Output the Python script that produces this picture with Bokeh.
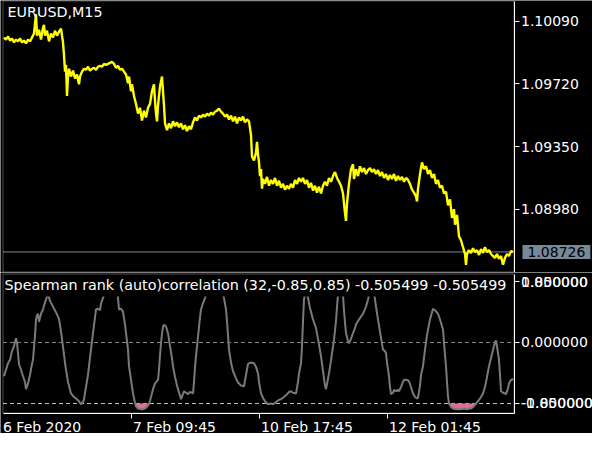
import numpy as np
from bokeh.plotting import figure
from bokeh.layouts import column
from bokeh.models import Range1d, FixedTicker, Label, BoxAnnotation
from bokeh.embed import file_html
from bokeh.resources import INLINE

# ---------------- data ----------------
symbol_title = "EURUSD,M15"
indicator_title = "Spearman rank (auto)correlation (32,-0.85,0.85) -0.505499 -0.505499"

price_bars = [1, 3, 5, 7, 9, 11, 13, 15, 17, 19, 21, 23, 25, 27, 29, 31, 33, 34, 36, 38,
              40, 41, 42, 44, 46, 48, 50, 52, 54, 56, 58, 59, 60, 61, 62, 63, 64, 65, 66, 68,
              70, 72, 74, 76, 77, 79, 81, 83, 85, 87, 89, 91, 93, 95, 97, 99, 101, 103, 105, 107,
              109, 111, 113, 115, 117, 119, 121, 123, 125, 126, 128, 129, 131, 133, 135, 137, 139, 141, 143, 145,
              147, 149, 151, 152, 153, 154, 155, 156, 157, 158, 159, 160, 161, 162, 164, 166, 168, 170, 172, 174,
              176, 178, 180, 182, 184, 186, 188, 190, 192, 194, 196, 198, 200, 202, 204, 206, 208, 210, 212, 214,
              216, 218, 220, 222, 224, 226, 228, 230, 232, 234, 236, 238, 240, 242, 244, 246, 248, 249, 251, 253,
              254, 255, 256, 257, 258, 259, 260, 262, 264, 266, 268, 270, 272, 274, 276, 278, 280, 282, 284, 286,
              288, 290, 292, 294, 296, 298, 300, 302, 304, 306, 308, 310, 312, 314, 316, 318, 320, 322, 324, 326,
              328, 330, 332, 334, 336, 338, 340, 342, 343, 344, 346, 348, 350, 351, 353, 355, 357, 359, 361, 363,
              365, 367, 369, 371, 373, 375, 377, 379, 381, 383, 385, 387, 389, 391, 393, 395, 397, 399, 401, 403,
              405, 407, 409, 411, 413, 414, 415, 417, 419, 421, 423, 425, 427, 429, 431, 433, 435, 437, 439, 441,
              443, 445, 447, 449, 451, 452, 454, 456, 458, 460, 462, 463, 464, 466, 468, 470, 472, 474, 476, 478,
              480, 482, 484, 486, 488, 490, 492, 494, 496, 498, 500, 502, 504, 506, 508, 510]
price_close = [1.09995, 1.09983, 1.10001, 1.09977, 1.09989, 1.09966, 1.09983, 1.09972, 1.09989, 1.09966,
               1.09977, 1.09960, 1.09983, 1.09972, 1.09995, 1.10018, 1.10133, 1.10006, 1.10041, 1.09983,
               1.10053, 1.10070, 1.10006, 1.10035, 1.09972, 1.10018, 1.09995, 1.10035, 1.10006, 1.10029,
               1.10047, 1.10006, 1.09966, 1.09891, 1.09793, 1.09833, 1.09649, 1.09764, 1.09810, 1.09764,
               1.09799, 1.09752, 1.09776, 1.09718, 1.09764, 1.09793, 1.09810, 1.09804, 1.09822, 1.09799,
               1.09810, 1.09816, 1.09804, 1.09822, 1.09827, 1.09822, 1.09839, 1.09833, 1.09839, 1.09845,
               1.09851, 1.09839, 1.09816, 1.09827, 1.09804, 1.09810, 1.09793, 1.09776, 1.09724, 1.09764,
               1.09677, 1.09718, 1.09649, 1.09602, 1.09545, 1.09579, 1.09504, 1.09562, 1.09522, 1.09579,
               1.09602, 1.09677, 1.09718, 1.09620, 1.09545, 1.09499, 1.09591, 1.09649, 1.09706, 1.09735,
               1.09764, 1.09677, 1.09591, 1.09487, 1.09447, 1.09487, 1.09458, 1.09499, 1.09470, 1.09493,
               1.09464, 1.09487, 1.09452, 1.09476, 1.09441, 1.09470, 1.09452, 1.09493, 1.09522, 1.09504,
               1.09533, 1.09522, 1.09539, 1.09527, 1.09545, 1.09533, 1.09551, 1.09539, 1.09556, 1.09562,
               1.09574, 1.09556, 1.09545, 1.09527, 1.09539, 1.09510, 1.09533, 1.09499, 1.09527, 1.09487,
               1.09522, 1.09504, 1.09527, 1.09493, 1.09510, 1.09499, 1.09418, 1.09291, 1.09268, 1.09314,
               1.09377, 1.09302, 1.09256, 1.09175, 1.09216, 1.09100, 1.09158, 1.09129, 1.09170, 1.09118,
               1.09152, 1.09129, 1.09164, 1.09118, 1.09147, 1.09106, 1.09129, 1.09095, 1.09118, 1.09100,
               1.09129, 1.09106, 1.09152, 1.09129, 1.09164, 1.09141, 1.09164, 1.09129, 1.09152, 1.09106,
               1.09135, 1.09089, 1.09118, 1.09077, 1.09112, 1.09072, 1.09118, 1.09141, 1.09118, 1.09164,
               1.09141, 1.09175, 1.09199, 1.09164, 1.09141, 1.09118, 1.09072, 1.08956, 1.08910, 1.09014,
               1.09129, 1.09216, 1.09245, 1.09158, 1.09216, 1.09175, 1.09233, 1.09199, 1.09222, 1.09187,
               1.09210, 1.09222, 1.09199, 1.09216, 1.09187, 1.09210, 1.09175, 1.09199, 1.09164, 1.09187,
               1.09152, 1.09181, 1.09158, 1.09187, 1.09147, 1.09175, 1.09152, 1.09170, 1.09141, 1.09164,
               1.09152, 1.09129, 1.09095, 1.09077, 1.09054, 1.09025, 1.09100, 1.09187, 1.09256, 1.09216,
               1.09233, 1.09187, 1.09210, 1.09164, 1.09187, 1.09129, 1.09152, 1.09106, 1.09118, 1.09072,
               1.09083, 1.09002, 1.09037, 1.08927, 1.08979, 1.08887, 1.08945, 1.08818, 1.08795, 1.08754,
               1.08714, 1.08650, 1.08714, 1.08737, 1.08720, 1.08748, 1.08725, 1.08737, 1.08708, 1.08743,
               1.08720, 1.08754, 1.08725, 1.08737, 1.08714, 1.08702, 1.08691, 1.08714, 1.08685, 1.08702,
               1.08650, 1.08691, 1.08714, 1.08702, 1.08731, 1.08726]
current_price = 1.08726
current_price_label = "1.08726"
price_ticks = [1.10090, 1.09720, 1.09350, 1.08980]
price_tick_labels = ["1.10090", "1.09720", "1.09350", "1.08980"]

corr_bars = [1, 3, 5, 7, 9, 11, 13, 14, 15, 16, 18, 20, 22, 23, 25, 27, 29, 30, 32, 33,
             34, 35, 36, 38, 40, 42, 44, 45, 47, 50, 53, 56, 58, 60, 62, 63, 65, 68, 71, 73,
             76, 78, 80, 81, 83, 85, 86, 88, 90, 92, 93, 95, 97, 98, 100, 102, 104, 108, 112, 114,
             115, 116, 118, 120, 122, 123, 125, 126, 128, 130, 132, 133, 135, 138, 140, 143, 146, 148, 150, 152,
             155, 156, 157, 158, 159, 160, 161, 163, 165, 167, 169, 170, 172, 174, 175, 177, 178, 180, 181, 183,
             185, 187, 189, 190, 191, 192, 193, 195, 197, 198, 200, 202, 204, 208, 212, 216, 219, 221, 223, 224,
             225, 226, 228, 230, 231, 233, 235, 236, 238, 241, 243, 245, 246, 248, 251, 253, 255, 256, 258, 260,
             262, 265, 268, 270, 273, 276, 278, 281, 284, 286, 288, 290, 293, 295, 296, 298, 299, 300, 301, 303,
             305, 307, 310, 312, 313, 315, 318, 320, 322, 323, 324, 326, 328, 331, 333, 334, 335, 338, 340, 341,
             342, 343, 345, 346, 348, 350, 352, 353, 355, 358, 360, 363, 365, 366, 368, 371, 373, 375, 377, 379,
             380, 382, 383, 384, 386, 387, 388, 390, 391, 393, 395, 396, 398, 400, 401, 403, 405, 406, 408, 410,
             412, 414, 415, 417, 418, 420, 422, 424, 425, 427, 429, 430, 432, 435, 437, 440, 441, 442, 443, 444,
             445, 446, 448, 450, 453, 456, 458, 461, 464, 466, 468, 470, 472, 473, 476, 478, 480, 482, 484, 486,
             488, 490, 492, 493, 494, 495, 496, 497, 498, 500, 502, 503, 505, 506, 508, 509, 510]
corr_values = [-0.47, -0.38, -0.29, -0.24, -0.12, -0.05, 0.06, 0.00, -0.15, -0.30, -0.38, -0.47, -0.55, -0.65, -0.57, -0.45, -0.30, -0.24, 0.10, 0.32,
               0.38, 0.40, 0.29, 0.40, 0.46, 0.56, 0.64, 0.68, 0.58, 0.50, 0.42, 0.33, 0.15, -0.06, -0.28, -0.38, -0.55, -0.71, -0.76, -0.78,
               -0.82, -0.86, -0.83, -0.79, -0.62, -0.45, -0.33, -0.10, 0.13, 0.35, 0.46, 0.47, 0.45, 0.54, 0.62, 0.70, 0.80, 0.85, 0.82, 0.72,
               0.62, 0.46, 0.47, 0.43, 0.25, 0.13, -0.10, -0.33, -0.52, -0.71, -0.84, -0.89, -0.92, -0.93, -0.93, -0.91, -0.86, -0.76, -0.65, -0.57,
               -0.52, -0.38, -0.18, -0.01, 0.12, 0.22, 0.25, 0.22, 0.13, -0.05, -0.22, -0.33, -0.48, -0.60, -0.65, -0.74, -0.79, -0.72, -0.68, -0.70,
               -0.72, -0.69, -0.70, -0.71, -0.55, -0.35, -0.19, 0.08, 0.35, 0.46, 0.55, 0.62, 0.70, 0.85, 0.90, 0.85, 0.70, 0.62, 0.46, 0.30,
               0.10, -0.10, -0.28, -0.40, -0.43, -0.50, -0.56, -0.57, -0.60, -0.61, -0.45, -0.30, -0.29, -0.28, -0.29, -0.34, -0.43, -0.55, -0.71, -0.77,
               -0.82, -0.86, -0.85, -0.86, -0.83, -0.80, -0.79, -0.76, -0.72, -0.69, -0.68, -0.70, -0.71, -0.55, -0.43, -0.29, -0.05, 0.30, 0.60, 0.75,
               0.62, 0.48, 0.32, 0.24, 0.20, 0.05, -0.19, -0.40, -0.60, -0.65, -0.58, -0.43, -0.25, 0.04, 0.30, 0.50, 0.66, 0.80, 0.66, 0.45,
               0.28, 0.13, 0.02, -0.01, 0.05, 0.13, 0.20, 0.25, 0.30, 0.36, 0.40, 0.50, 0.60, 0.66, 0.80, 0.70, 0.50, 0.32, 0.15, -0.02,
               -0.10, -0.12, -0.15, -0.28, -0.47, -0.62, -0.72, -0.70, -0.66, -0.68, -0.66, -0.68, -0.62, -0.55, -0.52, -0.52, -0.53, -0.54, -0.62, -0.71,
               -0.76, -0.78, -0.77, -0.60, -0.45, -0.33, -0.10, 0.10, 0.18, 0.32, 0.42, 0.47, 0.45, 0.40, 0.32, 0.18, 0.00, -0.18, -0.33, -0.55,
               -0.75, -0.85, -0.90, -0.92, -0.93, -0.93, -0.93, -0.92, -0.93, -0.92, -0.92, -0.90, -0.87, -0.85, -0.80, -0.76, -0.71, -0.62, -0.48, -0.33,
               -0.22, -0.10, 0.00, 0.03, -0.05, -0.15, -0.24, -0.45, -0.68, -0.70, -0.71, -0.72, -0.64, -0.57, -0.52, -0.52, -0.505499]
corr_low_level = -0.85
corr_levels = [0.85, 0.0, -0.85]
corr_tick_labels = ["0.850000", "0.000000", "-0.850000"]
corr_bound_values = [0.85, -0.85]
corr_bound_labels = ["1.000000", "-1.000000"]

time_ticks = [0, 128, 256, 384]
time_labels = ["6 Feb 2020", "7 Feb 09:45", "10 Feb 17:45", "12 Feb 01:45"]

# ---------------- layout / styles ----------------
FONT = "DejaVu Sans"
FS_AX = "14px"
FS_TITLE = "14.3px"
W = 592                 # canvas width (frame covers all of it)
TOP_H = 272             # price pane canvas height
LOW_H = 161             # indicator pane + time labels canvas height
PANE_L, PANE_R = 0, 511  # pane borders, in bar units (1 bar = 1 px)
x_range = Range1d(-2.5, W - 2.5)

price_px = 0.00005918   # price per pixel
price_range = Range1d(1.1021406 - TOP_H * price_px, 1.1021406)
corr_px = 1 / 71.76      # correlation units per pixel
corr_range = Range1d(0.97547 - LOW_H * corr_px, 0.97547)

price_pane_top = price_range.end - 0.5 * price_px
price_pane_bot = price_range.end - 271.5 * price_px
corr_pane_top = corr_range.end - 1.5 * corr_px
corr_pane_bot = corr_range.end - 140.5 * corr_px
corr_mask_bottom = 0.64
time_label_y = corr_range.end - 154 * corr_px


def style_axis(ax, ticks, labels):
    ax.ticker = FixedTicker(ticks=ticks)
    ax.major_label_overrides = dict(zip(ticks, labels))
    ax.minor_tick_line_color = None
    ax.major_tick_line_color = "white"
    ax.major_tick_out = 5
    ax.major_tick_in = 0
    ax.axis_line_color = "white"
    ax.major_label_text_color = "white"
    ax.major_label_text_font = FONT
    ax.major_label_text_font_size = FS_AX
    ax.major_label_standoff = 2


def pane_box(top, bottom):
    return BoxAnnotation(left=PANE_L, right=PANE_R, top=top, bottom=bottom,
                         fill_alpha=0, line_color="white", line_width=1)


# ---- top: price pane ----
p1 = figure(width=W, height=TOP_H, x_range=x_range, y_range=price_range,
            output_backend="svg", toolbar_location=None, x_axis_location=None,
            y_axis_location="right", min_border=0, background_fill_color="black",
            border_fill_color="black", outline_line_color=None)
p1.grid.visible = False
ya1 = p1.yaxis[0]
style_axis(ya1, price_ticks, price_tick_labels)
ya1.fixed_location = PANE_R
ya1.bounds = (price_pane_bot, price_pane_top)

p1.segment(x0=[PANE_L], x1=[PANE_R], y0=[current_price], y1=[current_price],
           line_color="#778899", line_width=1)
p1.line(price_bars, price_close, line_color="#FFFF00", line_width=2.4)
p1.add_layout(pane_box(price_pane_top, price_pane_bot))

p1.add_layout(Label(x=7, y=TOP_H - 3, x_units="screen", y_units="screen", text=symbol_title,
                    text_color="white", text_font=FONT, text_font_size=FS_TITLE,
                    text_align="left", text_baseline="top"))
p1.add_layout(Label(x=PANE_R + 8.5, y=current_price, text=current_price_label,
                    text_color="black", text_font=FONT, text_font_size=FS_AX,
                    text_align="left", text_baseline="middle",
                    background_fill_color="#778899",
                    padding=dict(left=5, right=5, top=2, bottom=2)))

# ---- bottom: indicator pane ----
p2 = figure(width=W, height=LOW_H, x_range=x_range, y_range=corr_range,
            output_backend="svg", toolbar_location=None, x_axis_location="below",
            y_axis_location="right", min_border=0, background_fill_color="black",
            border_fill_color="black", outline_line_color=None)
p2.grid.visible = False
ya2 = p2.yaxis[0]
style_axis(ya2, corr_levels, corr_tick_labels)
ya2.fixed_location = PANE_R
ya2.bounds = (corr_pane_bot, corr_pane_top)

xa = p2.xaxis[0]
xa.ticker = FixedTicker(ticks=time_ticks[1:])
xa.fixed_location = corr_pane_bot
xa.bounds = (PANE_L, PANE_R)
xa.minor_tick_line_color = None
xa.major_tick_line_color = "white"
xa.major_tick_out = 5
xa.major_tick_in = 0
xa.axis_line_color = "white"
xa.major_label_text_alpha = 0
xa.major_label_text_font_size = "1px"

for lvl in corr_levels:
    p2.segment(x0=[PANE_L], x1=[PANE_R], y0=[lvl], y1=[lvl],
               line_color="#778899" if lvl == 0 else "#C0C0C0",
               line_width=1, line_dash="4 3")

corr_arr = np.array(corr_values)
p2.varea(x=corr_bars, y1=np.full(len(corr_arr), corr_low_level),
         y2=np.minimum(corr_arr, corr_low_level), fill_color="#DB7093")
p2.line(corr_bars, corr_values, line_color="#7A7A7A", line_width=2)

# black band behind the indicator's name (hides the top of the curve)
p2.add_layout(BoxAnnotation(left=PANE_L, right=PANE_R, bottom=corr_mask_bottom, top=corr_pane_top,
                            fill_color="black", fill_alpha=1.0, line_color=None))
p2.add_layout(pane_box(corr_pane_top, corr_pane_bot))
p2.add_layout(Label(x=4, y=LOW_H - 4, x_units="screen", y_units="screen", text=indicator_title,
                    text_color="white", text_font=FONT, text_font_size=FS_TITLE,
                    text_align="left", text_baseline="top"))

for val, lab in zip(corr_bound_values, corr_bound_labels):
    p2.add_layout(Label(x=PANE_R + 7, y=val, text=lab,
                        text_color="white", text_font=FONT, text_font_size=FS_AX,
                        text_align="left", text_baseline="middle"))

for t, lab in zip(time_ticks, time_labels):
    p2.add_layout(Label(x=t, y=time_label_y, x_offset=0 if t == PANE_L else 2, text=lab,
                        text_color="white", text_font=FONT, text_font_size=FS_AX,
                        text_align="left", text_baseline="middle"))

layout = column(p1, p2, spacing=0)
open("out.html", "w").write(file_html(layout, INLINE))
